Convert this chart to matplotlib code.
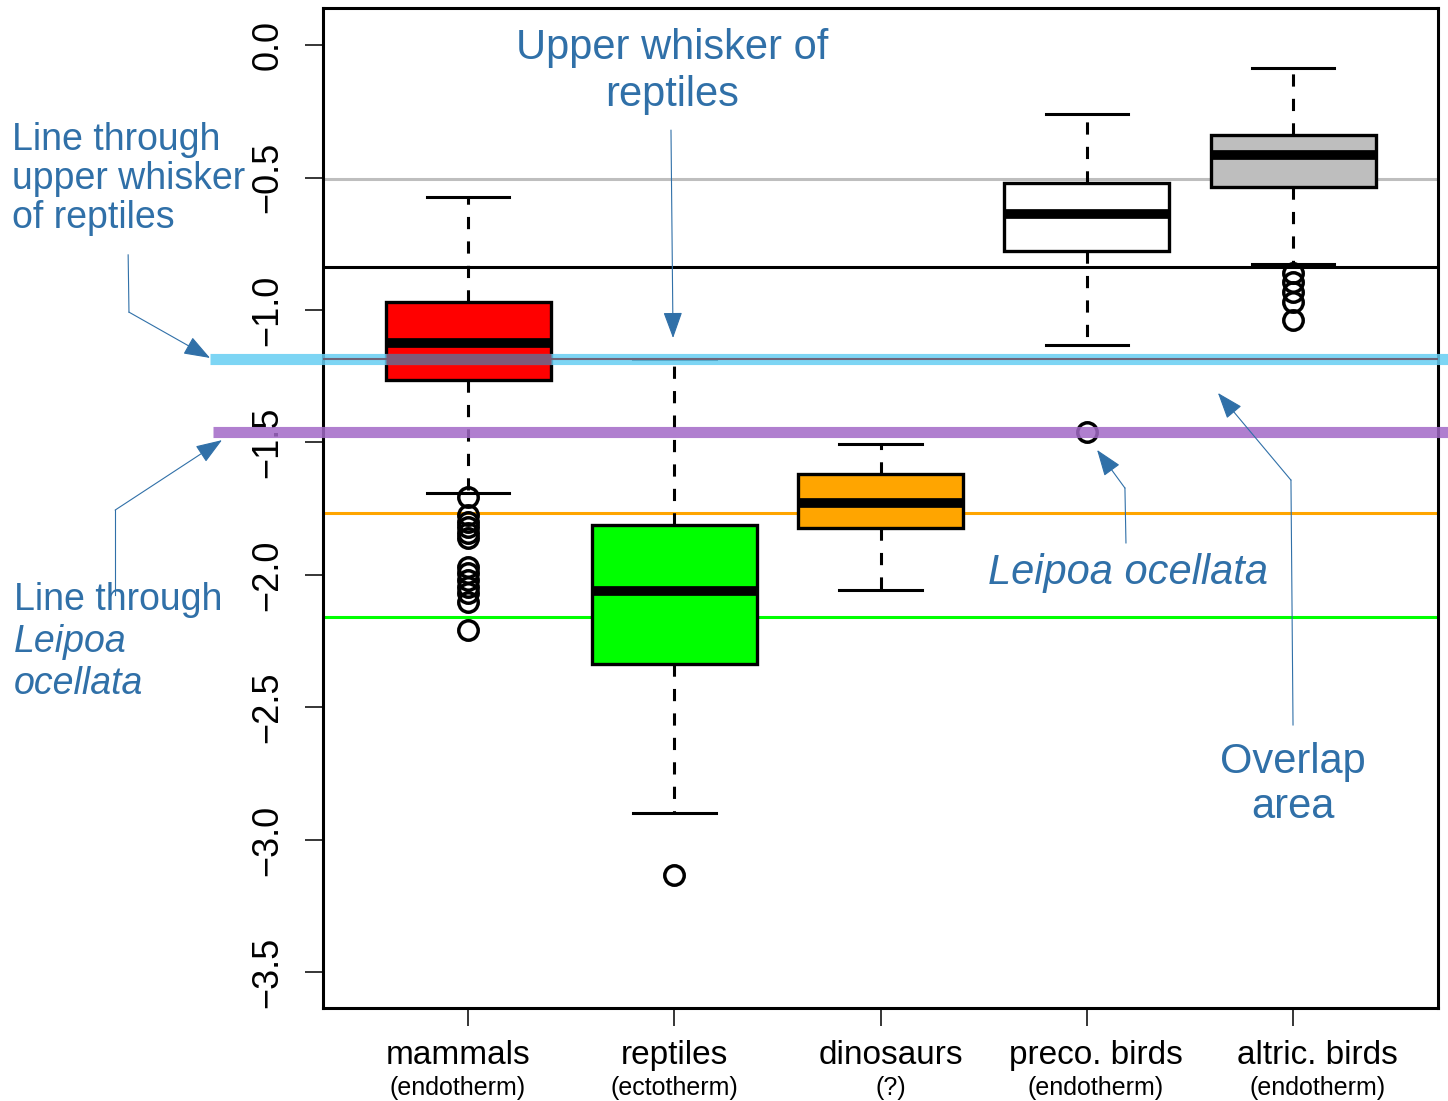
import numpy as np
import matplotlib
matplotlib.use('Agg')
import matplotlib.pyplot as plt

plt.rcParams['font.family'] = ['Liberation Sans', 'DejaVu Sans']

# groups and their summary stats (log scale)
groups = ['mammals', 'reptiles', 'dinosaurs', 'preco. birds', 'altric. birds']
subgroups = ['(endotherm)', '(ectotherm)', '(?)', '(endotherm)', '(endotherm)']
box_colors = ['#ff0000', '#00ff00', '#ffa500', '#ffffff', '#bebebe']

q1 = [-1.264, -2.336, -1.823, -0.777, -0.536]
med = [-1.125, -2.060, -1.728, -0.638, -0.415]
q3 = [-0.970, -1.811, -1.619, -0.521, -0.340]
whislo = [-1.690, -2.898, -2.057, -1.132, -0.826]
whishi = [-0.574, -1.185, -1.506, -0.260, -0.087]
fliers = [
    [-1.705, -1.774, -1.800, -1.819, -1.842, -1.860, -1.970, -1.992,
     -2.019, -2.045, -2.068, -2.102, -2.208],
    [-3.132],
    [],
    [-1.460],
    [-0.860, -0.894, -0.932, -0.970, -1.038],
]

# horizontal reference levels
ref_levels = [-0.506, -0.838, -1.766, -2.158]
ref_colors = ['#bebebe', '#000000', '#ffa500', '#00ff00']

yticks = [0.0, -0.5, -1.0, -1.5, -2.0, -2.5, -3.0, -3.5]

TXT = '#3070a8'

fig = plt.figure(figsize=(14.48, 11.01), dpi=100)
ax = fig.add_axes([0.2231, 0.0845, 0.7700, 0.9082])

pos = np.arange(1, len(groups) + 1)

for lvl, c in zip(ref_levels, ref_colors):
    ax.axhline(lvl, color=c, lw=2.2, zorder=1)

stats = []
for i in range(len(groups)):
    stats.append(dict(med=med[i], q1=q1[i], q3=q3[i], whislo=whislo[i],
                      whishi=whishi[i], fliers=fliers[i]))

bp = ax.bxp(stats, positions=pos, widths=0.8, capwidths=0.4, patch_artist=True,
            boxprops=dict(lw=2.4, edgecolor='black'),
            medianprops=dict(color='black', lw=7, solid_capstyle='butt'),
            whiskerprops=dict(color='black', lw=2.2, linestyle=(0, (4, 4))),
            capprops=dict(color='black', lw=2.2),
            flierprops=dict(marker='o', mfc='none', mec='black', ms=14, mew=2.5))
for patch, c in zip(bp['boxes'], box_colors):
    patch.set_facecolor(c)
    patch.set_zorder(2)

# highlighted lines: reptile upper whisker and Leipoa ocellata
x_lo, x_hi = -0.25, 5.76
rep_whisk = whishi[1]
leipoa = fliers[3][0]
ax.plot([x_lo, x_hi], [rep_whisk, rep_whisk], color='#66cef3', lw=8, alpha=0.85,
        solid_capstyle='butt', clip_on=False, zorder=5)
ax.plot([0.3, 5.7], [rep_whisk, rep_whisk], color='#6e6478', lw=1.5, zorder=6)
ax.plot([pos[0] - 0.4, pos[0] + 0.4], [rep_whisk, rep_whisk], color='#7f5a78', lw=8,
        solid_capstyle='butt', zorder=6)
ax.plot([x_lo + 0.015, x_hi], [leipoa, leipoa], color='#a269c7', lw=8, alpha=0.85,
        solid_capstyle='butt', clip_on=False, zorder=5)

ax.set_xlim(0.297, 5.703)
ax.set_ylim(-3.634, 0.1396)
ax.set_xticks(pos)
ax.set_xticklabels([])
ax.set_yticks(yticks)
ax.set_yticklabels([f'{v:.1f}'.replace('-', '\u2212') for v in yticks],
                   rotation=90, va='center', fontsize=26)
ax.tick_params(axis='both', direction='out', length=13, width=1.1, pad=14)
for sp in ax.spines.values():
    sp.set_linewidth(2.2)

# category labels, two lines each
label_shift = [-0.05, 0.0, 0.05, 0.045, 0.12]
trans = ax.get_xaxis_transform()
for p, g, s, d in zip(pos, groups, subgroups, label_shift):
    ax.text(p + d, -0.048, g, transform=trans, ha='center', va='center', fontsize=24)
    ax.text(p + d, -0.080, s, transform=trans, ha='center', va='center', fontsize=18)

# annotations
arrow_kw = dict(arrowstyle='-|>,head_length=0.55,head_width=0.2', color=TXT,
                lw=0.8, mutation_scale=30, shrinkA=0, shrinkB=0)


def callout(path):
    xs, ys = zip(*path)
    ax.plot(xs[:-1], ys[:-1], color=TXT, lw=0.8, clip_on=False, zorder=7)
    ax.annotate('', xy=path[-1], xytext=path[-2], arrowprops=arrow_kw,
                annotation_clip=False, zorder=7)


callout([(-0.648, -0.792), (-0.644, -1.008), (-0.251, -1.181)])
callout([(-0.711, -2.075), (-0.711, -1.755), (-0.193, -1.491)])
callout([(1.984, -0.321), (1.994, -1.106)])
callout([(4.190, -1.879), (4.185, -1.672), (4.050, -1.528)])
callout([(5.000, -2.566), (4.990, -1.642), (4.636, -1.313)])

ax.text(1.99, -0.100, 'Upper whisker of\nreptiles', ha='center', va='center',
        fontsize=30, color=TXT, linespacing=1.25)
ax.text(-1.211, -0.506, 'Line through\nupper whisker\nof reptiles', ha='left',
        va='center', fontsize=27, color=TXT, linespacing=1.12, clip_on=False)
ax.text(-1.202, -2.094, 'Line through', ha='left', va='center', fontsize=27, color=TXT)
ax.text(-1.202, -2.253, 'Leipoa', ha='left', va='center', fontsize=27, color=TXT,
        style='italic')
ax.text(-1.202, -2.411, 'ocellata', ha='left', va='center', fontsize=27, color=TXT,
        style='italic')
ax.text(4.2, -1.992, 'Leipoa ocellata', ha='center', va='center', fontsize=30,
        color=TXT, style='italic')
ax.text(5.0, -2.790, 'Overlap\narea', ha='center', va='center', fontsize=30,
        color=TXT, linespacing=1.15)

fig.savefig('out.png', dpi=100)
